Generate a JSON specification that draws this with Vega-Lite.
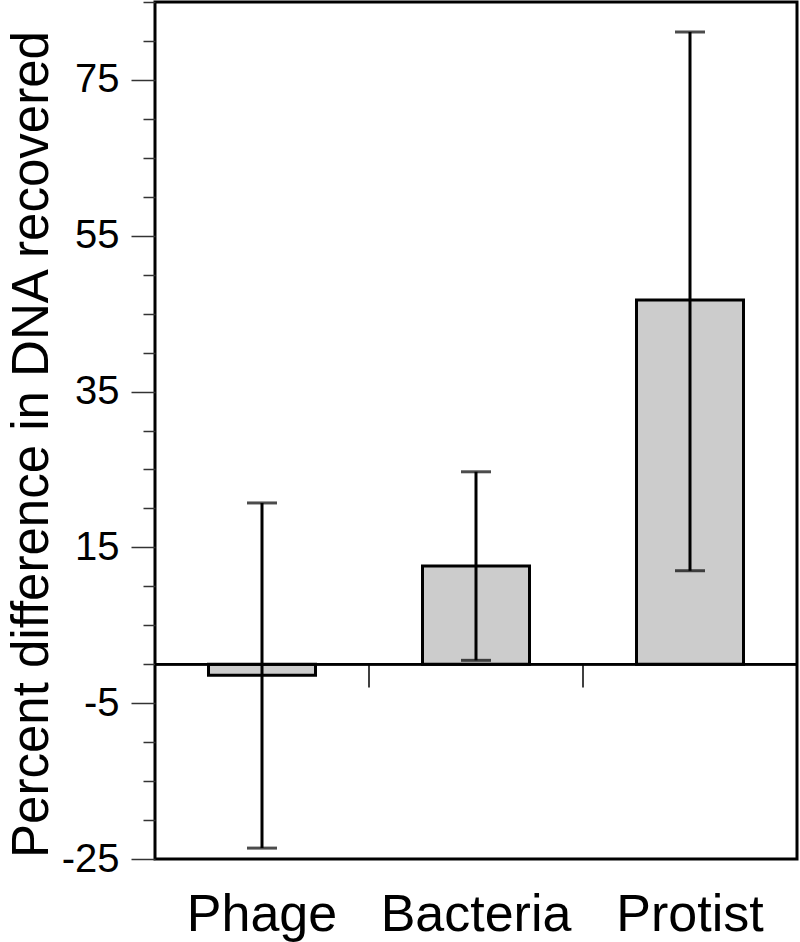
{
  "$schema": "https://vega.github.io/schema/vega-lite/v6.json",
  "width": 642,
  "height": 857,
  "autosize": "none",
  "padding": {"left": 155, "top": 2, "right": 3, "bottom": 83},
  "background": "white",
  "config": {
    "view": {"stroke": "black", "strokeWidth": 3},
    "font": "Liberation Sans"
  },
  "data": {
    "values": [
      {"group": "Phage", "value": -1.4, "lo": -23.6, "hi": 20.7},
      {"group": "Bacteria", "value": 12.6, "lo": 0.5, "hi": 24.7},
      {"group": "Protist", "value": 46.75, "lo": 12.0, "hi": 81.15}
    ]
  },
  "encoding": {
    "x": {
      "field": "group",
      "type": "nominal",
      "sort": ["Phage", "Bacteria", "Protist"],
      "scale": {"paddingInner": 0.5, "paddingOuter": 0.25},
      "axis": {
        "title": null,
        "domain": false,
        "ticks": false,
        "labelAngle": 0,
        "labelFontSize": 52,
        "labelColor": "black",
        "labelBaseline": "alphabetic",
        "labelPadding": 71,
        "labelLimit": 500,
        "labelFont": "Liberation Sans"
      }
    }
  },
  "layer": [
    {
      "mark": {"type": "bar", "fill": "#cccccc", "stroke": "black", "strokeWidth": 3},
      "encoding": {
        "y": {
          "field": "value",
          "type": "quantitative",
          "scale": {"domain": [-25, 85], "nice": false, "zero": false},
          "axis": {
            "title": "Percent difference in DNA recovered",
            "titleFontSize": 51,
            "titleFontWeight": "normal",
            "titleColor": "black",
            "titleBaseline": "alphabetic",
            "titleX": -108,
            "titleY": 442,
            "titleFont": "Liberation Sans",
            "domain": false,
            "grid": false,
            "tickCount": 50,
            "values": [-25, -20, -15, -10, -5, 0, 5, 10, 15, 20, 25, 30, 35, 40, 45, 50, 55, 60, 65, 70, 75, 80, 85],
            "labelExpr": "(datum.value + 25) % 20 === 0 ? ('' + datum.value) : ''",
            "labelOverlap": false,
            "tickSize": {"condition": {"test": "(datum.value + 25) % 20 === 0", "value": 24}, "value": 12},
            "tickColor": "#333333",
            "tickWidth": 1.5,
            "labelFontSize": 40,
            "labelColor": "black",
            "labelPadding": 12,
            "labelFont": "Liberation Sans"
          }
        }
      }
    },
    {
      "mark": {"type": "rule", "color": "black", "strokeWidth": 3},
      "encoding": {
        "y": {"field": "lo", "type": "quantitative"},
        "y2": {"field": "hi"}
      }
    },
    {
      "mark": {"type": "tick", "color": "black", "thickness": 3, "size": 30, "orient": "horizontal"},
      "encoding": {"y": {"field": "lo", "type": "quantitative"}}
    },
    {
      "mark": {"type": "tick", "color": "black", "thickness": 3, "size": 30, "orient": "horizontal"},
      "encoding": {"y": {"field": "hi", "type": "quantitative"}}
    },
    {
      "mark": {"type": "rule", "color": "black", "strokeWidth": 2.5},
      "encoding": {"x": {"value": 0}, "x2": {"value": 642}, "y": {"datum": 0}}
    },
    {
      "transform": [{"filter": "datum.group !== 'Protist'"}],
      "mark": {"type": "rule", "color": "black", "strokeWidth": 1.5},
      "encoding": {
        "x": {"field": "group", "type": "nominal", "bandPosition": 1.5},
        "y": {"datum": 0},
        "y2": {"datum": -3}
      }
    }
  ]
}
